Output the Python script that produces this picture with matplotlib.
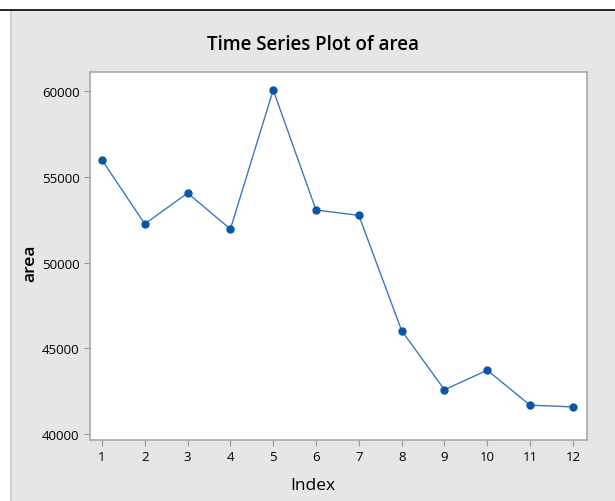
import matplotlib.pyplot as plt
from matplotlib.patches import Rectangle
from matplotlib.lines import Line2D

index = [1, 2, 3, 4, 5, 6, 7, 8, 9, 10, 11, 12]
area = [55980, 52250, 54050, 51950, 60060, 53060, 52750, 46030, 42580, 43720, 41680, 41580]
y_ticks = [40000, 45000, 50000, 55000, 60000]

plt.rcParams['font.family'] = ['Open Sans', 'DejaVu Sans']

W, H = 615, 502
fig = plt.figure(figsize=(W / 100, H / 100), dpi=100, facecolor='white')

# grey panel with the frame lines
fig.patches.append(Rectangle((11 / W, 0), 1 - 11 / W, 1 - 12 / H,
                             transform=fig.transFigure, facecolor='#e6e6e6',
                             edgecolor='none', zorder=-5))
fig.lines.append(Line2D([11 / W, 11 / W], [0, 1 - 12 / H], transform=fig.transFigure,
                        color='#c8c8c8', linewidth=1.2, zorder=-4))
fig.lines.append(Line2D([0, 1], [1 - 11 / H, 1 - 11 / H], transform=fig.transFigure,
                        color='black', linewidth=1.2, zorder=-4))

ax = fig.add_axes([90 / W, 1 - 441 / H, (587 - 90) / W, (441 - 73) / H])
ax.set_zorder(2)
ax.set_facecolor('white')

ax.plot(index, area,
        color='#3a78c0',
        linewidth=1.0,
        marker='o',
        markersize=5,
        markerfacecolor='#0a55a5',
        markeredgecolor='#0a55a5'
        )

ax.set_xlim(0.72, 12.33)
ax.set_ylim(39650, 61110)
ax.set_xticks(index)
ax.set_yticks(y_ticks)
ax.tick_params(colors='#999999', labelcolor='black', labelsize=9.5, length=4, width=0.8)

for s in ax.spines.values():
    s.set_color('#a8a8a8')
    s.set_linewidth(1.2)

ax.set_xlabel('Index', fontsize=12.5)
ax.set_ylabel('area', fontsize=12.5, fontweight='semibold')
ax.xaxis.set_label_coords((313 - 90) / 497, -(478 - 441) / 368)
ax.yaxis.set_label_coords(-(90 - 38) / 497, (441 - 263) / 368)
fig.text(313 / W, 1 - 45 / H, 'Time Series Plot of area',
         ha='center', va='center', fontsize=13.5, fontweight='semibold')

fig.savefig('out.png', dpi=100, facecolor=fig.get_facecolor())
